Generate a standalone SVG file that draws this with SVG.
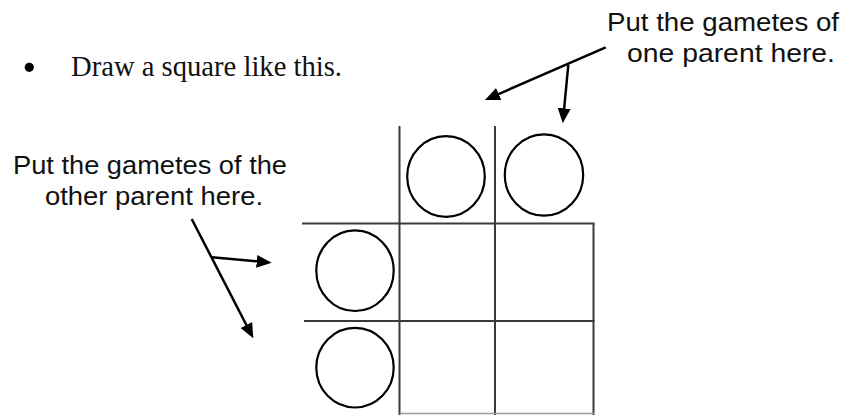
<svg xmlns="http://www.w3.org/2000/svg" width="849" height="415" viewBox="0 0 849 415">
<style>
.sans{font-family:"Liberation Sans","Open Sans",sans-serif;font-size:26.5px;fill:#111}
.serif{font-family:"Liberation Serif","DejaVu Serif",serif;font-size:28.5px;fill:#111}
.grid{stroke:#3a3a3a;stroke-width:2;fill:none}
.circ{stroke:#000;stroke-width:2.2;fill:none}
.arr{stroke:#000;stroke-width:2.5;fill:none;marker-end:url(#ah)}
</style>
<defs>
<marker id="ah" markerUnits="userSpaceOnUse" markerWidth="16" markerHeight="14" refX="7" refY="6.5" orient="auto" viewBox="0 0 16 13">
<path d="M0,0 L15,6.5 L0,13 Z" fill="#000"/>
</marker>
</defs>
<rect width="849" height="415" fill="#fff"/>
<g id="instruction">
<circle cx="29.3" cy="67.3" r="4.6" fill="#000"/>
<text class="serif" x="71" y="76" textLength="271" lengthAdjust="spacingAndGlyphs">Draw a square like this.</text>
</g>
<g id="label-top">
<text class="sans" x="607" y="31" textLength="232" lengthAdjust="spacingAndGlyphs">Put the gametes of</text>
<text class="sans" x="627" y="62" textLength="208" lengthAdjust="spacingAndGlyphs">one parent here.</text>
</g>
<g id="label-left">
<text class="sans" x="13" y="174" textLength="274" lengthAdjust="spacingAndGlyphs">Put the gametes of the</text>
<text class="sans" x="45" y="205" textLength="218" lengthAdjust="spacingAndGlyphs">other parent here.</text>
</g>
<g id="grid">
<line class="grid" x1="399.5" y1="126" x2="399.5" y2="415"/>
<line class="grid" x1="495" y1="126" x2="495" y2="415"/>
<line class="grid" x1="593.5" y1="223.5" x2="593.5" y2="415"/>
<line class="grid" x1="302" y1="223.5" x2="594.5" y2="223.5"/>
<line class="grid" x1="304" y1="321" x2="594.5" y2="321"/>
<line x1="399.5" y1="413.5" x2="594.5" y2="413.5" stroke="#999" stroke-width="1.5"/>
</g>
<g id="gamete-top-1"><ellipse class="circ" cx="446" cy="176.5" rx="38.8" ry="40.3"/></g>
<g id="gamete-top-2"><ellipse class="circ" cx="544" cy="175" rx="39.2" ry="40.7"/></g>
<g id="gamete-left-1"><ellipse class="circ" cx="355" cy="270.7" rx="38.7" ry="40.3"/></g>
<g id="gamete-left-2"><ellipse class="circ" cx="355" cy="367.7" rx="38.7" ry="39.8"/></g>
<g id="connectors">
<line class="arr" x1="605.7" y1="47.3" x2="492.3" y2="96.8"/>
<line class="arr" x1="568.3" y1="65" x2="563.5" y2="115.3"/>
<line class="arr" x1="191.7" y1="219" x2="249.6" y2="331.2"/>
<line class="arr" x1="212" y1="257.3" x2="263.7" y2="262"/>
</g>
</svg>
